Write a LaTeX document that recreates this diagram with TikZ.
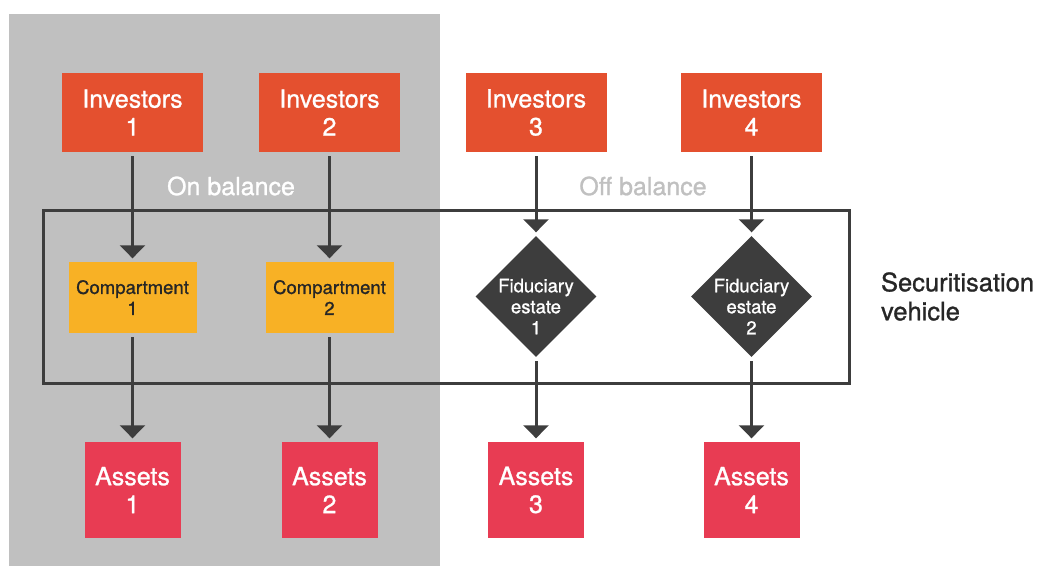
\documentclass[tikz,border=0pt]{standalone}
\usepackage{fontspec}
\setmainfont{TeX Gyre Heros}[FakeBold=1.0]
\usetikzlibrary{arrows.meta,positioning,shapes.geometric}

\definecolor{investred}{HTML}{E4502F}
\definecolor{compyellow}{HTML}{F8B125}
\definecolor{assetred}{HTML}{E83C53}
\definecolor{darkgrey}{HTML}{3D3D3D}
\definecolor{ongrey}{HTML}{C0C0C0}

\tikzset{
  investors/.style={fill=investred, text=white, minimum width=141pt,
    minimum height=79pt, align=center, font=\fontsize{25}{28}\selectfont},
  compartment/.style={fill=compyellow, text=black!85, minimum width=128pt,
    minimum height=71pt, align=center, font=\fontsize{18.5}{21}\selectfont},
  estate/.style={diamond, fill=darkgrey, minimum size=121pt, inner sep=0pt},
  estate text/.style={text=white, align=center, yshift=-10pt,
    font=\fontsize{18.5}{21}\selectfont},
  assets/.style={fill=assetred, text=white, minimum size=96pt,
    align=center, font=\fontsize{25}{28}\selectfont},
  flow/.style={-{Triangle[width=25pt,length=13pt]}, line width=3pt,
    draw=darkgrey, shorten <=4pt, shorten >=3.5pt}
}

\begin{document}
\begin{tikzpicture}[x=1pt,y=-1pt,on grid]
      \useasboundingbox (0,0) rectangle (1040,566);
      \fill[ongrey] (9,14) rectangle (440,566);

      % top row
      \node[investors] (inv1) at (132.5,112.5) {Investors\\1};
      \node[investors] (inv2) [right=197pt of inv1] {Investors\\2};
      \node[investors] (inv3) [right=206.5pt of inv2] {Investors\\3};
      \node[investors] (inv4) [right=215.5pt of inv3] {Investors\\4};

      % vehicle
      \node[draw=darkgrey, line width=3pt, minimum width=806pt,
        minimum height=173pt] (vehicle) at (446,296.5) {};
      \node[anchor=west, align=left, text=black!85,
        font=\fontsize{25.5}{29}\selectfont] (vlabel)
        at ([xshift=27pt]vehicle.east) {Securitisation\\vehicle};

      \node[compartment] (comp1) [below=185pt of inv1] {Compartment\\1};
      \node[compartment] (comp2) [below=185pt of inv2] {Compartment\\2};
      \node[estate, label={[estate text]center:Fiduciary\\estate\\1}]
        (fid1) [below=184pt of inv3] {};
      \node[estate, label={[estate text]center:Fiduciary\\estate\\2}]
        (fid2) [below=184pt of inv4] {};

      % bottom row
      \node[assets] (ast1) [below=192.5pt of comp1] {Assets\\1};
      \node[assets] (ast2) [below=192.5pt of comp2] {Assets\\2};
      \node[assets] (ast3) [below=193.5pt of fid1] {Assets\\3};
      \node[assets] (ast4) [below=193.5pt of fid2] {Assets\\4};

      \node[text=white, font=\fontsize{25}{28}\selectfont] (onbal) at (231,186) {On balance};
      \node[text=ongrey, font=\fontsize{25}{28}\selectfont] (offbal) at (643,186) {Off balance};

      \draw[flow] (inv1) -- (comp1);
      \draw[flow] (inv2) -- (comp2);
      \draw[flow] (inv3) -- (fid1);
      \draw[flow] (inv4) -- (fid2);
      \draw[flow] (comp1) -- (ast1);
      \draw[flow] (comp2) -- (ast2);
      \draw[flow] (fid1) -- (ast3);
      \draw[flow] (fid2) -- (ast4);
    \end{tikzpicture}
\end{document}
